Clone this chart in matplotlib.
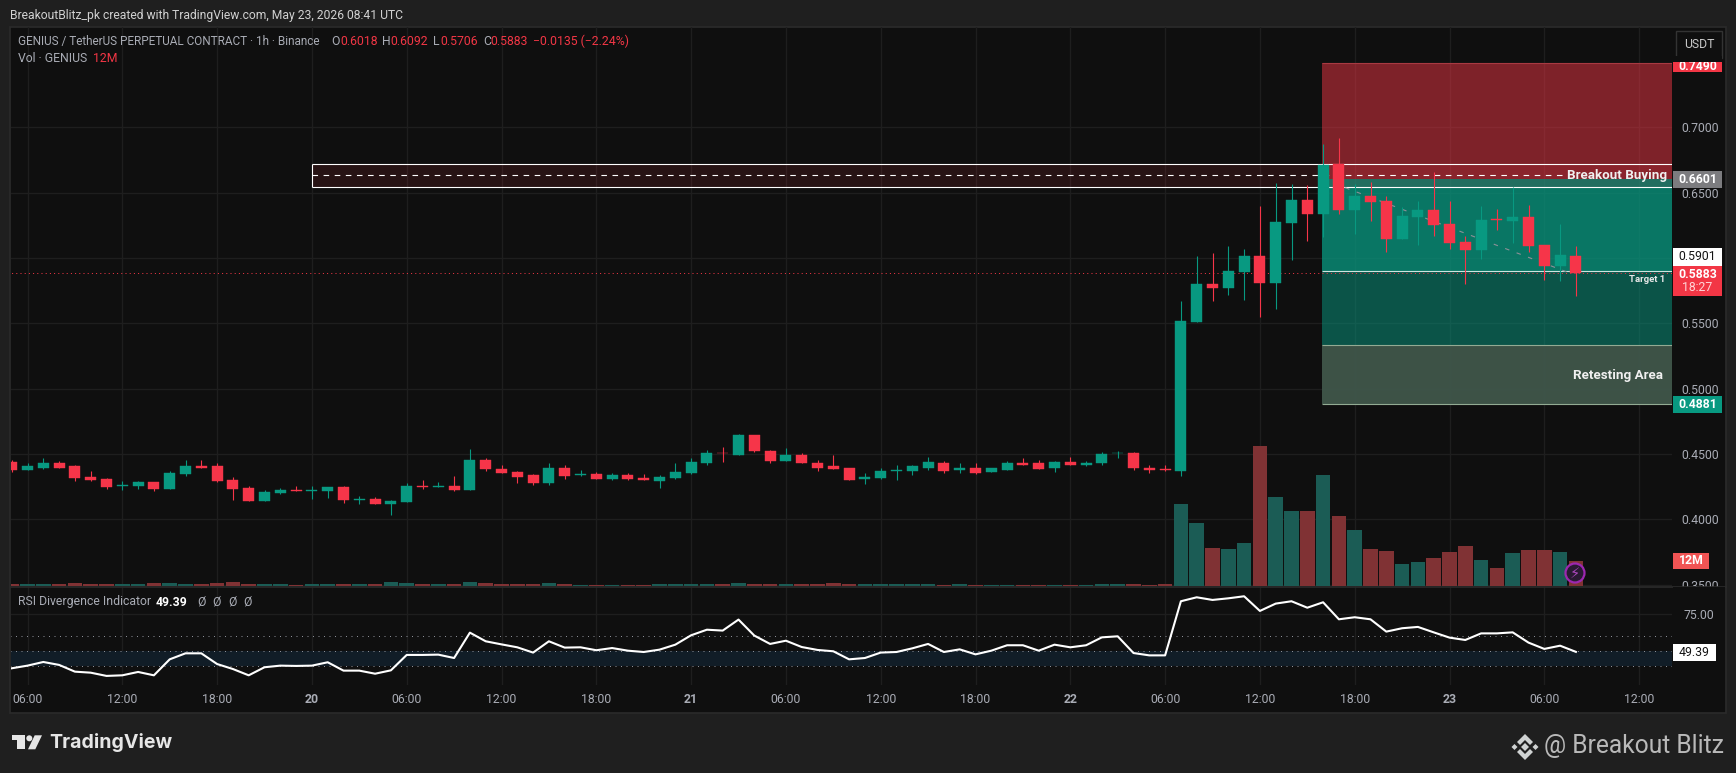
import numpy as np
import matplotlib
matplotlib.use('Agg')
import matplotlib.pyplot as plt
from matplotlib.patches import Rectangle, Polygon, Circle

# hourly bars, hour 0 = May 19 06:00
opens = [.4442, .4374, .4396, .4434, .4404, .4321, .4306, .4258, .4253, .4283,
         .4230, .4343, .4404, .4404, .4298, .4237, .4139, .4200, .4222, .4217,
         .4215, .4245, .4149, .4154, .4116, .4131, .4253, .4248, .4253, .4222,
         .4457, .4381, .4359, .4336, .4275, .4396, .4336, .4343, .4306, .4336,
         .4313, .4290, .4313, .4351, .4434, .4510, .4495, .4646, .4525, .4449,
         .4495, .4434, .4404, .4389, .4306, .4313, .4369, .4366, .4396, .4434,
         .4374, .4396, .4359, .4374, .4427, .4427, .4389, .4442, .4412, .4427,
         .4505, .4510, .4396, .4381, .4366, .5508, .5800, .5769, .5892, .6014,
         .5807, .6267, .6443, .6336, .6719, .6367, .6474, .6436, .6144, .6313,
         .6367, .6259, .6121, .6060, .6298, .6282, .6313, .6098, .5938, .6018]
highs = [.4457, .4427, .4465, .4444, .4412, .4366, .4313, .4290, .4290, .4283,
         .4366, .4457, .4457, .4434, .4321, .4253, .4222, .4237, .4253, .4253,
         .4245, .4253, .4177, .4169, .4146, .4275, .4298, .4283, .4328, .4540,
         .4472, .4419, .4366, .4343, .4427, .4419, .4374, .4359, .4351, .4351,
         .4343, .4336, .4427, .4472, .4533, .4556, .4654, .4646, .4533, .4548,
         .4510, .4457, .4495, .4396, .4351, .4396, .4412, .4419, .4480, .4449,
         .4427, .4434, .4396, .4449, .4472, .4457, .4449, .4480, .4449, .4518,
         .4525, .4518, .4412, .4419, .5669, .6014, .6037, .6091, .6068, .6397,
         .6573, .6566, .6558, .6872, .6918, .6566, .6581, .6474, .6390, .6436,
         .6658, .6436, .6167, .6397, .6374, .6543, .6405, .6098, .6259, .6092]
lows = [.4359, .4374, .4381, .4396, .4290, .4290, .4230, .4222, .4230, .4215,
        .4230, .4328, .4389, .4283, .4146, .4139, .4139, .4192, .4215, .4154,
        .4162, .4124, .4116, .4116, .4033, .4131, .4230, .4245, .4215, .4222,
        .4366, .4351, .4275, .4260, .4260, .4306, .4328, .4306, .4298, .4298,
        .4298, .4237, .4306, .4343, .4412, .4442, .4495, .4518, .4434, .4449,
        .4427, .4366, .4381, .4298, .4268, .4306, .4298, .4336, .4374, .4351,
        .4351, .4343, .4359, .4374, .4419, .4381, .4359, .4412, .4404, .4412,
        .4472, .4374, .4351, .4366, .4328, .5508, .5669, .5715, .5677, .5547,
        .5608, .5984, .6129, .6160, .6336, .6183, .6282, .6045, .6144, .6098,
        .6167, .6068, .5800, .5991, .6213, .6114, .6045, .5830, .5823, .5706]
closes = [.4374, .4404, .4434, .4396, .4313, .4298, .4245, .4260, .4283, .4230,
          .4351, .4404, .4396, .4290, .4230, .4139, .4207, .4222, .4215, .4222,
          .4245, .4146, .4154, .4116, .4139, .4253, .4245, .4253, .4222, .4457,
          .4381, .4351, .4321, .4275, .4396, .4328, .4343, .4306, .4336, .4306,
          .4298, .4321, .4359, .4442, .4510, .4505, .4646, .4525, .4449, .4495,
          .4427, .4396, .4381, .4298, .4321, .4366, .4374, .4404, .4442, .4366,
          .4396, .4351, .4389, .4427, .4419, .4381, .4442, .4412, .4434, .4503,
          .4510, .4389, .4374, .4376, .5516, .5800, .5769, .5899, .6014, .5807,
          .6275, .6443, .6336, .6711, .6367, .6474, .6428, .6144, .6321, .6367,
          .6252, .6114, .6060, .6290, .6293, .6313, .6091, .5938, .6022, .5883]
volumes = [1, 1, 1, 1, 1.4, 1, 1, 1, 1, 1.4,
           1.4, 1, 1, 1.4, 1.9, 1, 1, 1, .5, 1,
           1, 1, 1, 1, 1.9, 1.4, 1, 1, 1, 1.9,
           1.4, 1, 1, 1, 1.4, 1, .5, .5, .5, .5,
           .5, 1, 1, 1, 1, 1, 1.4, 1, 1, 1,
           1, 1, 1.4, 1, 1, 1, 1, 1, 1, .5,
           1, .5, .5, .5, .5, .5, .5, .5, .5, 1,
           1, 1, .5, 1, 39.4, 30.2, 18.2, 17.8, 20.6, 67.2,
           42.7, 36, 36, 53.3, 33.6, 26.9, 17.8, 16.8, 10.6, 11.5,
           13.4, 16.3, 19.2, 12.5, 8.6, 15.8, 17.3, 17.3, 16.3, 12]
rsi = [38.2, 40, 42.5, 40.5, 35.9, 35.2, 33, 33.4, 35.7, 33.4,
       44.3, 48.4, 48.4, 41.1, 37.7, 33.4, 38.9, 40, 39.8, 40,
       42.3, 36.6, 36.6, 34.5, 36.8, 47.3, 47.3, 47.5, 45.2, 62.5,
       56.6, 54.5, 52.5, 48.9, 56.6, 52.3, 52.5, 50.5, 52, 50.2,
       49.3, 50.9, 54.3, 60.7, 64.5, 63.9, 71.4, 60.5, 54.8, 57,
       52.7, 50.7, 49.8, 44.3, 45.2, 48.9, 49.3, 51.8, 54.8, 49.3,
       51.1, 47.7, 50.2, 53.9, 53.9, 50.2, 54.3, 52.5, 53.9, 59.3,
       60, 48.6, 47, 47, 83.9, 86.6, 84.8, 85.9, 87.3, 77.3,
       82.3, 83.9, 79.5, 83.2, 71.6, 73, 71.6, 63.2, 65.5, 66.4,
       62.7, 59.1, 57.5, 62, 62, 62.7, 55.7, 51.4, 53.6, 49.39]
hours = np.arange(-1, 99)

tick_hours = [0, 6, 12, 18, 24, 30, 36, 42, 48, 54, 60, 66, 72, 78, 84, 90, 96, 102]
tick_labels = ['06:00', '12:00', '18:00', '20', '06:00', '12:00', '18:00', '21', '06:00',
               '12:00', '18:00', '22', '06:00', '12:00', '18:00', '23', '06:00', '12:00']
price_ticks = [.35, .40, .45, .50, .55, .60, .65, .70]

# drawing objects on the chart
zone_start = 81.9
stop, entry, target, retest_top, retest_bot = .7490, .6601, .5901, .5333, .4881
box_start, box_top, box_bot, box_mid = 18.0, .6719, .6541, .6633
box_dash_end = 97.2
diag_x = [83.4, 97.8]
diag_y = [.6538, .5876]
last_price = .5883

W, H = 1736, 773
BG = '#1f1f1f'
PANEL = '#0f0f0f'
GRID = '#1e1e1e'
UP = '#089981'
DOWN = '#f63549'
UP_VOL = '#1b5c55'
DOWN_VOL = '#803234'
TXT = '#a9acb5'
FS = 8.8
plt.rcParams['font.family'] = ['Roboto', 'DejaVu Sans']

fig = plt.figure(figsize=(W / 100, H / 100), dpi=100, facecolor=BG)


def pane(left, top, right, bottom, z):
    a = fig.add_axes([left / W, 1 - bottom / H, (right - left) / W, (bottom - top) / H], zorder=z)
    for s in a.spines.values():
        s.set_visible(False)
    a.set_xlim((left - 27.5) / 15.8, (right - 27.5) / 15.8)
    return a


# background frame
bg = fig.add_axes([0, 0, 1, 1], zorder=0)
bg.set_xlim(0, W)
bg.set_ylim(H, 0)
bg.axis('off')
bg.add_patch(Rectangle((10, 26.5), 1716, 686, fc=PANEL, ec='#2b2b2b', lw=1.2))

# price pane
ax = pane(10.7, 27, 1672, 586, 1)
ax.patch.set_alpha(0)
ax.set_ylim(.3489, .7768)
ax.set_axisbelow(True)
ax.grid(True, color=GRID, lw=1)
ax.set_xticks(tick_hours)
ax.set_xticklabels([])
ax.set_yticks(price_ticks)
ax.set_yticklabels([f'{p:.4f}' for p in price_ticks], fontsize=FS, color=TXT)
ax.yaxis.tick_right()
ax.tick_params(length=0, pad=6.5)

ax.add_patch(Rectangle((zone_start, entry), 30, stop - entry, fc='#f23645', alpha=.49, lw=0, zorder=1))
ax.add_patch(Rectangle((zone_start, target), 30, entry - target, fc=UP, alpha=.75, lw=0, zorder=1))
ax.add_patch(Rectangle((zone_start, retest_top), 30, target - retest_top, fc=UP, alpha=.5, lw=0, zorder=1))
ax.add_patch(Rectangle((zone_start, retest_bot), 30, retest_top - retest_bot, fc='#3f5549', alpha=.97, lw=0, zorder=1))
ax.hlines([retest_top, retest_bot], zone_start, 112, color='#93ab93', lw=.8, zorder=1.5)
ax.hlines(stop, zone_start, 112, color='#a83a42', lw=.8, zorder=1.5)

ax.add_patch(Rectangle((box_start, box_bot), 100, box_top - box_bot, fc='#f23645', alpha=.11, lw=0, zorder=1.6))
ax.hlines([box_top, box_bot], box_start, 112, color='white', lw=.8, zorder=2)
ax.vlines(box_start, box_bot, box_top, color='white', lw=.8, zorder=2)
ax.plot([box_start, box_dash_end], [box_mid, box_mid], color='white', lw=.8, ls=(0, (5, 5)), zorder=2)
ax.hlines(target, zone_start, 112, color='#cde5df', lw=.8, zorder=2)
ax.plot(diag_x, diag_y, color='#8d9097', lw=.8, ls=(0, (4, 7)), zorder=2)
ax.plot([-2, 112], [last_price, last_price], color='#f23645', lw=.72, ls=(0, (1, 3.2)), zorder=2.2)

colors = [UP if c >= o else DOWN for o, c in zip(opens, closes)]
ax.vlines(hours, lows, highs, colors=colors, lw=.8, zorder=3)
ax.bar(hours, np.array(closes) - np.array(opens), bottom=opens, width=.7, color=colors,
       edgecolor=colors, lw=.3, zorder=3.1)

# volume pane on top of the grid
vol = pane(10.7, 27, 1672, 586, 2)
vol.patch.set_alpha(0)
vol.set_ylim(0, 268.3)
vol.set_xticks([])
vol.set_yticks([])
vol_colors = [UP_VOL if c >= o else DOWN_VOL for o, c in zip(opens, closes)]
vol.bar(hours, volumes, width=.92, color=vol_colors, lw=0)

# rsi pane
pane_rsi = pane(10.7, 586, 1672, 685, 2)
pane_rsi.patch.set_alpha(0)
pane_rsi.set_ylim(26.8, 94.3)
pane_rsi.set_axisbelow(True)
pane_rsi.set_xticks(tick_hours)
pane_rsi.set_xticklabels(tick_labels, fontsize=FS, color=TXT)
for lab in pane_rsi.get_xticklabels():
    if len(lab.get_text()) == 2:
        lab.set_fontweight('bold')
pane_rsi.set_yticks([75])
pane_rsi.set_yticklabels(['75.00'], fontsize=FS, color=TXT)
pane_rsi.yaxis.tick_right()
pane_rsi.tick_params(length=0, pad=8.5)
pane_rsi.tick_params(axis='x', pad=6)
pane_rsi.grid(True, color=GRID, lw=1)
pane_rsi.axhspan(40, 50, color='#111d27', lw=0, zorder=1)
pane_rsi.hlines([60, 50, 40], -2, 112, color='#8b8e96', lw=.72, ls=(0, (1, 4.5)), zorder=1.5)
pane_rsi.plot(hours, rsi, color='white', lw=1.5, zorder=3, solid_joinstyle='round')

# overlay in pixel units: header, tags, logos
ov = fig.add_axes([0, 0, 1, 1], zorder=5)
ov.set_xlim(0, W)
ov.set_ylim(H, 0)
ov.axis('off')
ov.patch.set_alpha(0)

ov.plot([10.7, 1726], [586.5, 586.5], color='#2b2b2b', lw=1.2)
ov.add_patch(Rectangle((1673, 587.2), 52, 12, fc=PANEL, lw=0, zorder=2))


def label(x, y, s, color=TXT, size=FS, weight='normal', ha='left', z=6):
    return ov.text(x, y, s, color=color, fontsize=size, fontweight=weight, ha=ha, va='center', zorder=z)


def tag(y0, y1, fc, s, color='white', x1=1722, weight='bold', x0=1673):
    ov.add_patch(Rectangle((x0, y0), x1 - x0, y1 - y0, fc=fc, lw=0, zorder=3))
    label((x0 + x1) / 2, (y0 + y1) / 2, s, color=color, weight=weight, ha='center')


label(10, 15, 'BreakoutBlitz_pk created with TradingView.com, May 23, 2026 08:41 UTC', color='#d1d1d1', size=8.7)

label(18, 41.5, 'GENIUS / TetherUS PERPETUAL CONTRACT · 1h · Binance', size=8.45)
for x, s in zip([331, 382, 433, 483], 'OHLC'):
    label(x, 41.5, s)
for x, s in zip([340, 390, 440, 490], ['0.6018', '0.6092', '0.5706', '0.5883']):
    label(x, 41.5, s, color='#f23645')
label(533, 41.5, '−0.0135 (−2.24%)', color='#f23645')
label(18, 59, 'Vol · GENIUS')
label(93, 59, '12M', color='#f23645')

label(18, 602, 'RSI Divergence Indicator')
label(156, 602, '49.39', color='white', weight='bold')
for x in [197, 212, 228, 243]:
    label(x, 602, 'Ø')

label(1667, 176, 'Breakout Buying', color='#f0f0f0', size=9.6, weight='bold', ha='right')
label(1665, 280, 'Target 1', color='#e8e8e8', size=6.8, weight='bold', ha='right')
label(1663, 375.5, 'Retesting Area', color='#f0f0f0', size=9.6, weight='bold', ha='right')

# usdt button and tags
ov.add_patch(Rectangle((1676, 31), 46, 27, fc=PANEL, ec='#333333', lw=1, zorder=4))
label(1699, 44.5, 'USDT', color='#c8c8c8', ha='center', size=8.8)
tag(62, 72, '#f23645', '0.7490')
ov.add_patch(Rectangle((1673, 56), 49, 6, fc=PANEL, lw=0, zorder=7))
tag(171, 187.7, '#7c7c7f', '0.6601')
tag(248, 266, 'white', '0.5901', color='#131313', weight='normal')
ov.add_patch(Rectangle((1673, 266), 49, 30, fc='#f23645', lw=0, zorder=3))
label(1697.5, 274, '0.5883', color='white', weight='bold', ha='center')
label(1697.5, 287.5, '18:27', color='#ffd5d8', ha='center')
tag(396, 413, UP, '0.4881')
tag(553, 569, '#f15454', '12M', x1=1709)
ov.add_patch(Rectangle((1673, 644), 43, 17, fc='white', lw=0, zorder=3))
label(1694.5, 652.5, '49.39', color='#131313', ha='center')

ov.add_patch(Circle((1575, 573), 9.5, fc='#2a1a33', ec='#9c27b0', lw=1.6, zorder=4))
ov.text(1575, 573, '⚡', color='#ab47bc', fontsize=10.5, ha='center', va='center', family='DejaVu Sans', zorder=5)

# tradingview logo
ov.add_patch(Polygon([(12, 735.3), (25.3, 735.3), (25.3, 749.3), (16.7, 749.3), (16.7, 740), (12, 740)], fc='#e6e6e6', lw=0))
ov.add_patch(Circle((29.3, 738.3), 3, fc='#e6e6e6', lw=0))
ov.add_patch(Polygon([(34.7, 735.3), (42, 735.3), (35.3, 749.3), (28, 749.3)], fc='#e6e6e6', lw=0))
ov.text(49, 743, 'TradingView', color='#e6e6e6', fontsize=14.1, fontweight='bold', family='Inter', ha='left', va='center', zorder=6)

# binance style logo and signature
cx, cy = 1525, 747
for dx, dy, r in [(0, 0, 4), (-10.5, 0, 3), (10.5, 0, 3)]:
    ov.add_patch(Polygon([(cx + dx - r, cy + dy), (cx + dx, cy + dy - r), (cx + dx + r, cy + dy), (cx + dx, cy + dy + r)], fc='#cfd2d2', lw=0))
for sign in [-1, 1]:
    ov.add_patch(Polygon([(cx, cy + sign * 13), (cx + 8, cy + sign * 5), (cx + 5, cy + sign * 2), (cx, cy + sign * 7),
                          (cx - 5, cy + sign * 2), (cx - 8, cy + sign * 5)], fc='#cfd2d2', lw=0))
label(1544, 746, '@ Breakout Blitz', color='#b9b9b9', size=17.7)

fig.savefig('out.png', dpi=100, facecolor=BG)
